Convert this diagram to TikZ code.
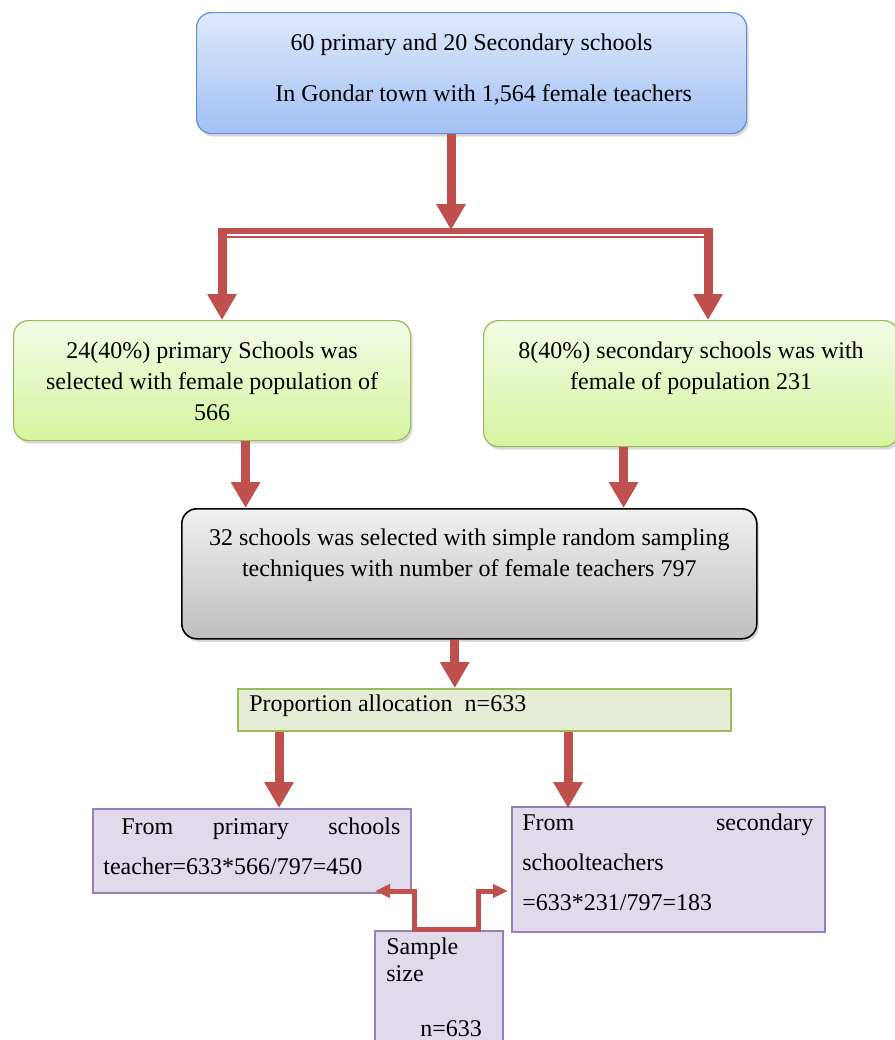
\documentclass[tikz,border=0pt]{standalone}
\usepackage{fontspec}
\setmainfont{Liberation Serif}
\usepackage{tikz}
\usetikzlibrary{arrows.meta,calc,shadows}
\definecolor{flowred}{RGB}{192,80,77}
\definecolor{flowblue}{RGB}{98,142,212}
\definecolor{bluetop}{RGB}{222,233,252}
\definecolor{bluebot}{RGB}{162,192,244}
\definecolor{flowgreen}{RGB}{155,187,89}
\definecolor{greentop}{RGB}{243,251,230}
\definecolor{greenbot}{RGB}{214,244,160}
\definecolor{graytop}{RGB}{240,240,240}
\definecolor{graybot}{RGB}{190,190,190}
\definecolor{propfill}{RGB}{229,237,215}
\definecolor{flowpurple}{RGB}{150,128,186}
\definecolor{purplefill}{RGB}{224,218,234}

\begin{document}
\begin{tikzpicture}[x=0.5pt,y=-0.5pt,
    every node/.style={font=\fontsize{12pt}{15.5pt}\selectfont},
    box/.style={anchor=north west,inner sep=0pt,rounded corners=7.5pt,
        drop shadow={opacity=0.3,shadow xshift=1pt,shadow yshift=-1.5pt}},
    flat/.style={anchor=north west,inner sep=0pt,line width=1pt},
    txt/.style={inner sep=0pt,align=center},
    arr/.style={draw=flowred,line width=4.5pt,-{Triangle[width=14pt,length=13pt]}},
    sarr/.style={draw=flowred,line width=2.5pt,{Triangle[width=6.5pt,length=7.5pt]}-{Triangle[width=6.5pt,length=7.5pt]}}]
    \useasboundingbox (0,0) rectangle (895,1040);

    % Boxes
    \node[box,draw=flowblue,line width=0.6pt,top color=bluetop,bottom color=bluebot,
        minimum width=275pt,minimum height=60.5pt] (top) at (196,12) {};
    \node[box,draw=flowgreen,line width=0.6pt,top color=greentop,bottom color=greenbot,
        minimum width=198.5pt,minimum height=60pt] (primary) at (13,320) {};
    \node[box,draw=flowgreen,line width=0.6pt,top color=greentop,bottom color=greenbot,
        minimum width=207.5pt,minimum height=63pt] (secondary) at (483,320) {};
    \node[box,draw=black,line width=0.8pt,top color=graytop,bottom color=graybot,
        minimum width=287.5pt,minimum height=65pt] (selected) at (181,508) {};
    \node[flat,draw=flowgreen,fill=propfill,minimum width=246.5pt,minimum height=21pt] (prop) at (237,688) {};
    \node[flat,draw=flowpurple,fill=purplefill,minimum width=159pt,minimum height=42pt] (frompri) at (92,808) {};
    \node[flat,draw=flowpurple,fill=purplefill,minimum width=156.5pt,minimum height=62.5pt] (fromsec) at (511,806) {};
    \node[flat,draw=flowpurple,fill=purplefill,minimum width=64pt,minimum height=60pt] (sample) at (374,930) {};

    % Texts
    \node[txt,anchor=north,font=\fontsize{12pt}{25.5pt}\selectfont] (top-txt) at ([yshift=-10.5pt]top.north)
        {60 primary and 20 Secondary schools\\\hspace*{12pt}In Gondar town with 1,564 female teachers};
    \node[txt,anchor=north] (primary-txt) at ([yshift=-10.5pt]primary.north)
        {24(40\%) primary Schools was\\selected with female population of\\566};
    \node[txt,anchor=north] (secondary-txt) at ([yshift=-10.5pt]secondary.north)
        {8(40\%) secondary schools was with\\female of population 231};
    \node[txt,anchor=north] (selected-txt) at ([yshift=-10pt]selected.north)
        {32 schools was selected with simple random sampling\\techniques with number of female teachers 797};
    \node[txt,anchor=west] (prop-txt) at ([xshift=6pt,yshift=2pt]prop.west) {Proportion allocation\ \ n=633};
    \node[txt,anchor=north west,align=left,font=\fontsize{12pt}{20pt}\selectfont] (frompri-txt)
        at ([xshift=5.5pt,yshift=-4.5pt]frompri.north west)
        {\hspace*{9pt}\makebox[139.5pt][s]{From primary schools}\\teacher=633*566/797=450};
    \node[txt,anchor=north west,align=left,font=\fontsize{12pt}{20pt}\selectfont] (fromsec-txt)
        at ([xshift=5.5pt,yshift=-3.5pt]fromsec.north west)
        {\makebox[145.5pt][s]{From secondary}\\schoolteachers\\=633*231/797=183};
    \node[txt,anchor=north west,align=left,font=\fontsize{12pt}{13.5pt}\selectfont] (sample-txt)
        at ([xshift=6pt,yshift=-3.5pt]sample.north west)
        {Sample\\size\\[14pt]\hspace*{17pt}n=633};

    % Split bar
    \coordinate (fork) at (451,230);
    \coordinate (lsplit) at (222,231);
    \coordinate (rsplit) at (708,231);
    \draw[flowred,line width=3pt] ([xshift=-2.25pt]lsplit) -- ([xshift=2.25pt]rsplit);
    \draw[flowred,line width=1pt] ([yshift=-3pt]lsplit) -- ([yshift=-3pt]rsplit);

    % Arrows
    \draw[arr] (top.south -| fork) -- (fork);
    \draw[arr] ([yshift=1.5pt]lsplit) -- (primary.north -| lsplit);
    \draw[arr] ([yshift=1.5pt]rsplit) -- (secondary.north -| rsplit);
    \draw[arr] ([xshift=16.75pt]primary.south) -- ([xshift=16.75pt]primary.south |- selected.north);
    \draw[arr] ([xshift=-33.75pt]secondary.south) -- ([xshift=-33.75pt]secondary.south |- selected.north);
    \draw[arr] ([xshift=-7.25pt]selected.south) -- ([xshift=-7.25pt]selected.south |- prop.north);
    \draw[arr] ([xshift=-102.75pt]prop.south) -- ([xshift=-102.75pt]prop.south |- frompri.north);
    \draw[arr] ([xshift=41.75pt]prop.south) -- ([xshift=41.75pt]prop.south |- frompri.north);

    % Sample size links
    \coordinate (lend) at ([xshift=-18.5pt,yshift=1.5pt]frompri.south east);
    \coordinate (rend) at ([xshift=-1.5pt]fromsec.west |- lend);
    \draw[sarr] (lend) -| ([xshift=-12.5pt,yshift=0.5pt]sample.north)
        -- ([xshift=19.5pt,yshift=0.5pt]sample.north) |- (rend);
\end{tikzpicture}
\end{document}
